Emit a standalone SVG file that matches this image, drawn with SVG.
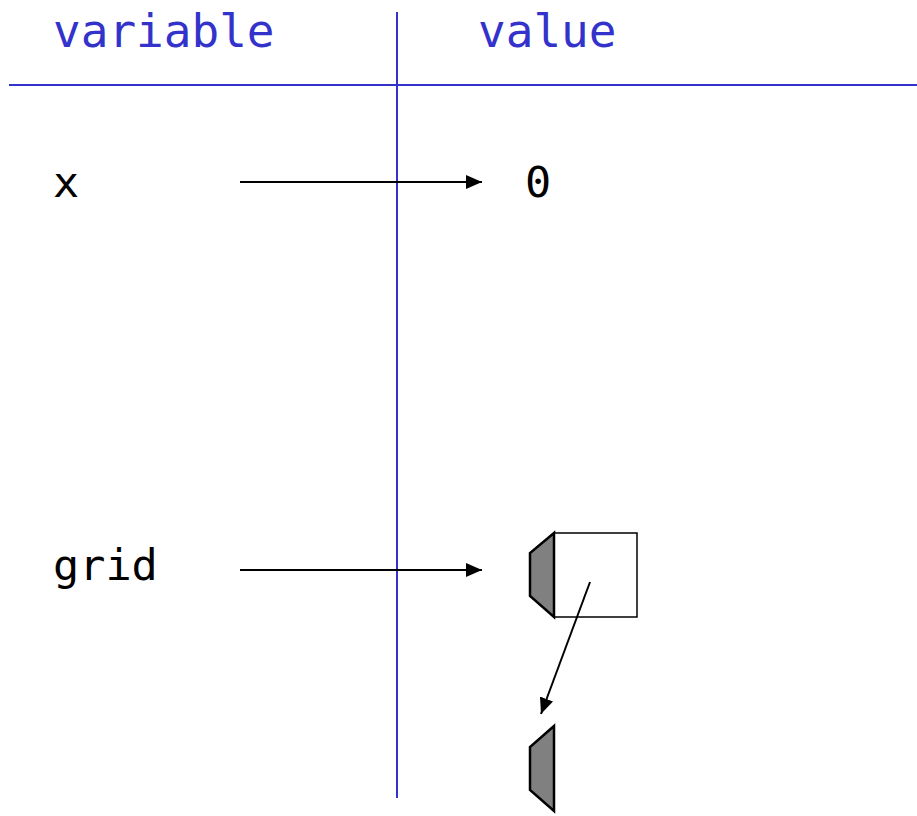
<svg xmlns="http://www.w3.org/2000/svg" width="917" height="816" viewBox="0 0 917 816">
<defs>
<style>
.hdr{font-family:"DejaVu Sans Mono",monospace;font-size:46px;fill:#3333cc}
.lbl{font-family:"DejaVu Sans Mono",monospace;font-size:43.5px;fill:#000}
.rule{stroke:#3333cc;stroke-width:2;fill:none}
.conn{stroke:#000;stroke-width:2;fill:none}
.tab{fill:#808080;stroke:#000;stroke-width:2.5;stroke-linejoin:miter}
</style>
<marker id="ah2" viewBox="0 0 16 14" refX="16" refY="7" markerWidth="16" markerHeight="14" orient="auto" markerUnits="userSpaceOnUse">
<path d="M0,0 L16,7 L0,14 z" fill="#000"/>
</marker>
</defs>
<g id="table">
<line class="rule" x1="397" y1="12" x2="397" y2="798"/>
<line class="rule" x1="9" y1="85" x2="917" y2="85"/>
<text class="hdr" x="53" y="47">variable</text>
<text class="hdr" x="478" y="47">value</text>
</g>
<g id="var-x"><text class="lbl" x="53" y="197">x</text></g>
<g id="val-0"><text class="lbl" x="525" y="197">0</text></g>
<g id="var-grid"><text class="lbl" x="53" y="580">grid</text></g>
<g id="grid-obj">
<rect x="554" y="533" width="83" height="84" fill="#fff" stroke="#000" stroke-width="1.5"/>
<polygon class="tab" points="554,533 530,553 530,596 554,617"/>
</g>
<g id="list-obj">
<polygon class="tab" points="554,726 530,747 530,790 554,811"/>
</g>
<g id="connectors">
<line class="conn" x1="240" y1="182" x2="482" y2="182" marker-end="url(#ah2)"/>
<line class="conn" x1="240" y1="570" x2="482" y2="570" marker-end="url(#ah2)"/>
<line class="conn" x1="590" y1="582" x2="541" y2="714" marker-end="url(#ah2)"/>
</g>
</svg>
